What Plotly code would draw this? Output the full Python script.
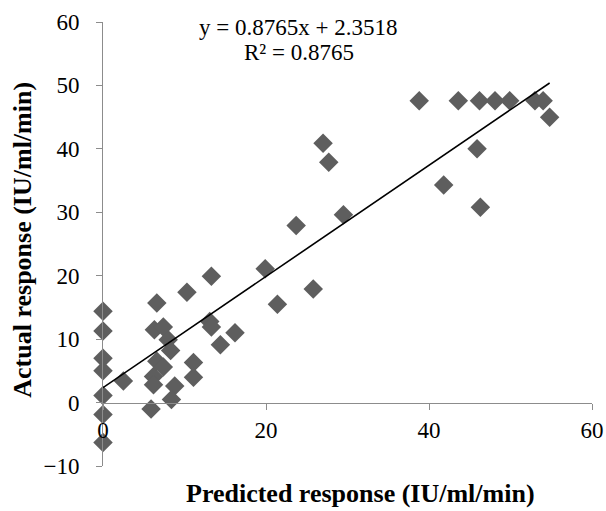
import plotly.graph_objects as go

# Data
predicted = [0, 0, 0, 0, 0, 0, 0,
             2.5, 5.9, 6.2, 6.2, 6.6, 7.4, 6.6, 6.3, 7.4, 8.0, 8.3, 8.8, 8.4,
             10.3, 11.1, 11.1, 13.1, 13.3, 13.3, 14.4, 16.2, 19.9, 21.4, 23.7,
             25.8, 27.0, 27.7, 29.5, 38.8, 41.8, 43.6, 45.9, 46.2, 46.3, 48.1,
             49.9, 53.0, 54.0, 54.8]
actual = [14.4, 11.3, 7.0, 5.0, 1.1, -1.9, -6.3,
          3.4, -1.0, 4.1, 2.8, 6.5, 5.6, 15.7, 11.5, 11.9, 9.9, 8.2, 2.6, 0.5,
          17.4, 6.3, 4.0, 12.8, 11.9, 19.9, 9.1, 11.0, 21.1, 15.5, 27.9,
          17.9, 40.9, 37.9, 29.6, 47.6, 34.3, 47.6, 40.0, 47.6, 30.8, 47.6,
          47.6, 47.6, 47.6, 45.0]

slope = 0.8765
intercept = 2.3518
r_squared = 0.8765

x_ticks = [0, 20, 40, 60]
y_ticks = [-10, 0, 10, 20, 30, 40, 50, 60]

fit_x = [min(predicted), max(predicted)]
fit_y = [slope * v + intercept for v in fit_x]

FONT = "Liberation Serif, Times New Roman, serif"
AXIS_COLOR = "#8c8c8c"
L, T, PW, PH = 103, 22, 489, 444.5


def px(xp):
    return (xp - L) / PW


def py(yp):
    return (T + PH - yp) / PH


fig = go.Figure()
fig.add_trace(go.Scatter(
    x=predicted, y=actual, mode="markers", cliponaxis=False,
    marker=dict(symbol="diamond", size=15, color="#5e5e5e", line=dict(width=0)),
    showlegend=False, hoverinfo="skip"))
fig.add_trace(go.Scatter(
    x=fit_x, y=fit_y, mode="lines",
    line=dict(color="black", width=1.6),
    showlegend=False, hoverinfo="skip"))

fig.update_layout(
    width=606, height=511,
    margin=dict(l=L, r=606 - L - PW, t=T, b=511 - T - PH, autoexpand=False),
    paper_bgcolor="white", plot_bgcolor="white",
    font=dict(family=FONT, size=23, color="black"),
    xaxis=dict(
        range=[0, 60], tickvals=x_ticks, showgrid=False, zeroline=False,
        showline=True, linecolor=AXIS_COLOR, linewidth=1, automargin=False,
        ticks="outside", ticklen=6, tickcolor=AXIS_COLOR,
        anchor="free", position=1/7, ticklabelstandoff=1,
        tickfont=dict(family=FONT, size=23, color="black")),
    yaxis=dict(
        range=[-10, 60], tickvals=y_ticks, showgrid=False, zeroline=False,
        showline=True, linecolor=AXIS_COLOR, linewidth=1, automargin=False,
        ticks="outside", ticklen=6, tickcolor=AXIS_COLOR, ticklabelstandoff=12,
        tickfont=dict(family=FONT, size=23, color="black")),
    annotations=[
        dict(text=f"y = {slope}x + {intercept}",
             xref="paper", yref="paper", x=px(298), y=py(27.5),
             xanchor="center", yanchor="middle", showarrow=False,
             font=dict(family=FONT, size=23, color="black")),
        dict(text=f"R² = {r_squared}",
             xref="paper", yref="paper", x=px(299), y=py(53),
             xanchor="center", yanchor="middle", showarrow=False,
             font=dict(family=FONT, size=23, color="black")),
        dict(text="<b>Predicted response (IU/ml/min)</b>",
             xref="paper", yref="paper", x=px(360), y=py(494),
             xanchor="center", yanchor="middle", showarrow=False,
             font=dict(family=FONT, size=26, color="black")),
        dict(text="<b>Actual response (IU/ml/min)</b>",
             xref="paper", yref="paper", x=px(23), y=py(240), textangle=-90,
             xanchor="center", yanchor="middle", showarrow=False,
             font=dict(family=FONT, size=26, color="black")),
    ],
)

fig.write_html(
    "out.html",
    config={"displayModeBar": False},
    post_script="document.body.style.margin='0';document.body.style.overflow='hidden';",
)
